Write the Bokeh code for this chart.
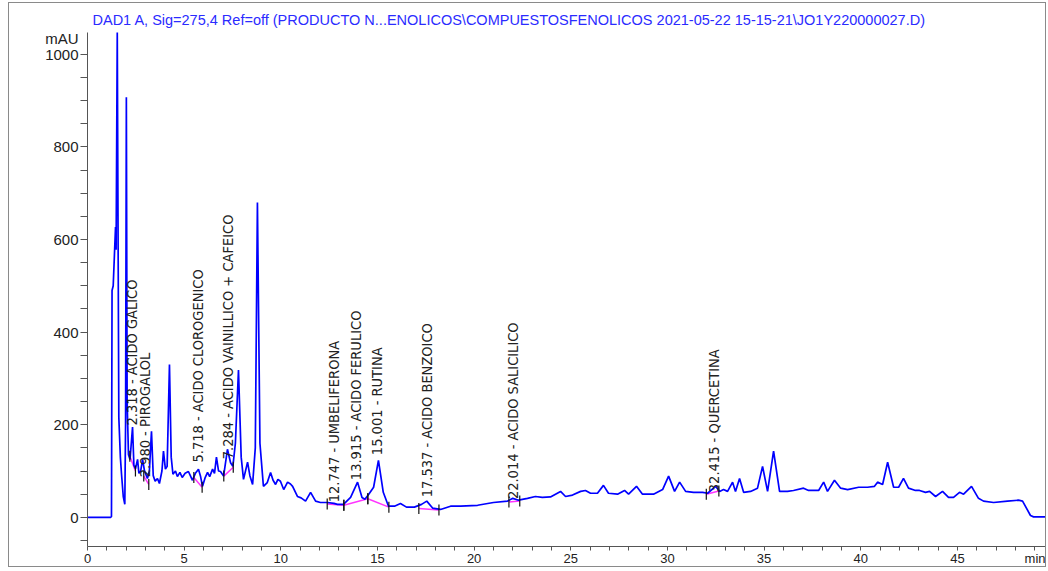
import numpy as np
from bokeh.plotting import figure
from bokeh.models import FixedTicker, ColumnDataSource
from bokeh.core.properties import value
from bokeh.embed import file_html
from bokeh.resources import INLINE

TITLE = ("DAD1 A, Sig=275,4 Ref=off (PRODUCTO N...ENOLICOS\\COMPUESTOSFENOLICOS "
         "2021-05-22 15-15-21\\JO1Y220000027.D)")

# chromatogram trace (time in min, signal in mAU)
time_min = [
    0.00, 1.20, 1.24, 1.27, 1.33, 1.45, 1.48, 1.54, 1.62, 1.70, 1.76, 1.85, 1.93, 1.97, 2.01,
    2.05, 2.12, 2.20, 2.33, 2.40, 2.48, 2.59, 2.66, 2.75, 2.85, 2.95, 3.10, 3.20, 3.31, 3.40,
    3.50, 3.62, 3.72, 3.85, 3.93, 4.03, 4.12, 4.24, 4.33, 4.42, 4.55, 4.65, 4.78, 4.90, 5.05,
    5.22, 5.32, 5.43, 5.58, 5.74, 5.85, 5.95, 6.08, 6.21, 6.32, 6.47, 6.57, 6.67, 6.78, 6.88,
    7.04, 7.24, 7.40, 7.52, 7.65, 7.81, 7.95, 8.07, 8.28, 8.40, 8.54, 8.68, 8.79, 8.92, 9.10,
    9.30, 9.47, 9.60, 9.73, 9.85, 9.98, 10.15, 10.35, 10.50, 10.61, 10.86, 11.05, 11.28, 11.54,
    11.80, 12.05, 12.42, 12.75, 12.93, 13.24, 13.61, 13.97, 14.20, 14.35, 14.55, 14.80, 15.05,
    15.30, 15.57, 15.88, 16.19, 16.50, 16.91, 17.28, 17.55, 17.85, 18.26, 18.78, 19.30, 20.18,
    21.00, 21.73, 22.00, 22.30, 22.76, 23.17, 23.53, 23.95, 24.47, 24.73, 25.09, 25.51, 25.76,
    26.02, 26.38, 26.69, 26.95, 27.42, 27.78, 27.99, 28.40, 28.71, 29.28, 29.75, 30.06, 30.37,
    30.63, 30.94, 31.35, 31.82, 32.08, 32.49, 32.70, 32.90, 33.11, 33.37, 33.52, 33.73, 33.94,
    34.30, 34.66, 34.92, 35.18, 35.49, 35.80, 36.21, 36.52, 37.04, 37.30, 37.82, 38.08, 38.28,
    38.64, 38.96, 39.32, 39.89, 40.35, 40.71, 40.87, 41.13, 41.39, 41.70, 41.96, 42.21, 42.47,
    42.83, 43.04, 43.35, 43.56, 43.87, 44.23, 44.54, 44.80, 45.11, 45.32, 45.73, 46.09, 46.35,
    46.87, 47.59, 48.16, 48.37, 48.78, 48.94, 49.70,
]
signal_mau = [
    0, 0, 2, 490, 500, 627, 578, 1048, 216, 130, 93, 45, 28, 200, 907,
    250, 135, 125, 195, 112, 105, 125, 95, 100, 125, 100, 84, 100, 186, 90,
    78, 84, 73, 100, 143, 104, 110, 330, 130, 93, 100, 88, 97, 86, 95,
    99, 90, 80, 95, 104, 88, 67, 85, 97, 88, 104, 95, 130, 100, 99,
    89, 147, 118, 110, 160, 318, 130, 82, 119, 90, 71, 150, 680, 160, 67,
    75, 97, 80, 71, 82, 78, 60, 76, 72, 67, 45, 42, 35, 54,
    35, 32, 32, 30, 28, 28, 43, 76, 43, 39, 50, 65, 123,
    54, 24, 24, 30, 22, 22, 28, 35, 20, 17, 24, 24, 26,
    32, 35, 41, 37, 41, 45, 43, 44, 56, 45, 48, 56, 58,
    52, 52, 69, 52, 50, 58, 50, 67, 50, 50, 60, 89, 56,
    76, 56, 54, 54, 52, 67, 56, 60, 56, 76, 56, 84, 54,
    56, 63, 110, 56, 143, 56, 56, 58, 63, 58, 58, 76, 56,
    80, 63, 60, 65, 65, 67, 76, 71, 119, 65, 65, 84, 63,
    58, 58, 54, 56, 45, 56, 43, 43, 54, 50, 67, 41, 35,
    32, 35, 37, 35, 4, 1, 1,
]

# identified peaks
peak_rt = [2.318, 2.980, 5.718, 7.284, 12.747, 13.915, 15.001, 17.537, 22.014, 32.415]
peak_name = ["ACIDO GALICO", "PIROGALOL", "ACIDO CLOROGENICO", "ACIDO VAINILLICO + CAFEICO",
             "UMBELIFERONA", "ACIDO FERULICO", "RUTINA", "ACIDO BENZOICO",
             "ACIDO SALICILICO", "QUERCETINA"]
peak_label_mau = [194, 82, 114, 121, 28, 76, 130, 39, 35, 50]

# integration baselines (start/end time, start/end signal)
bl_t0 = [2.19, 2.91, 5.50, 7.05, 12.40, 13.26, 14.50, 17.14, 21.80, 32.01]
bl_v0 = [132, 89, 86, 89, 29, 26, 40, 19, 33, 50]
bl_t1 = [2.48, 3.17, 5.93, 7.54, 13.26, 14.50, 15.59, 18.18, 22.36, 32.66]
bl_v1 = [100, 71, 65, 108, 26, 40, 22, 16, 35, 57]

# axis ticks and their labels
x_major = [0, 5, 10, 15, 20, 25, 30, 35, 40, 45, 49.3]
x_minor = list(range(0, 50))
x_unit = "min"
y_major = [0, 200, 400, 600, 800, 1000, 1035]
y_minor = list(range(-50, 1051, 50))
y_unit = "mAU"

p = figure(width=1038, height=565, x_range=(0, 49.66), y_range=(-63, 1047),
           output_backend="svg", toolbar_location=None,
           min_border_left=78, min_border_right=0, min_border_top=29, min_border_bottom=21)
p.margin = (2, 0, 0, 8)
p.styles = {"border": "1px solid #8a8a8a"}
p.outline_line_color = None
p.grid.visible = False
p.background_fill_color = "white"
p.border_fill_color = "white"

p.title.text = TITLE
p.title.text_color = "#2b2bff"
p.title.text_font = "Liberation Sans"
p.title.text_font_size = "14.5px"
p.title.text_font_style = "normal"
p.title.align = "left"
p.title.offset = 5
p.title.standoff = 10

# baselines and markers
p.segment(x0=bl_t0, y0=bl_v0, x1=bl_t1, y1=bl_v1, line_color="#ff33ff", line_width=1.5)
p.line(time_min, signal_mau, line_color="#0000ff", line_width=1.7)
p.scatter(x=bl_t0 + bl_t1, y=bl_v0 + bl_v1, marker="dash", angle=np.pi / 2, size=11,
          line_color="#111111", line_width=1.2)

labels = ColumnDataSource(dict(
    x=peak_rt, y=peak_label_mau,
    t=[f"{rt:.3f} -  {nm}" for rt, nm in zip(peak_rt, peak_name)]))
p.text(x="x", y="y", text="t", source=labels, angle=np.pi / 2, text_align="left",
       text_baseline="middle", text_font=value("DejaVu Sans Condensed"),
       text_font_size="14.5px", text_color="#222222", y_offset=-2)

for ax in (p.xaxis[0], p.yaxis[0]):
    ax.axis_line_color = "#555555"
    ax.major_tick_line_color = "#555555"
    ax.minor_tick_line_color = "#555555"
    ax.major_label_text_font = "Liberation Sans"
    ax.major_label_text_color = "#222222"
    ax.major_tick_out = 0
    ax.major_tick_in = 0
    ax.minor_tick_in = 0

p.yaxis.ticker = FixedTicker(ticks=y_major, minor_ticks=y_minor)
p.yaxis.major_label_overrides = {1035: y_unit}
p.yaxis.minor_tick_out = 7
p.yaxis.major_label_text_font_size = "15px"
p.yaxis.major_label_standoff = 2

p.xaxis.ticker = FixedTicker(ticks=x_major, minor_ticks=x_minor)
p.xaxis.major_label_overrides = {49.3: x_unit}
p.xaxis.minor_tick_out = 4
p.xaxis.major_label_text_font_size = "13px"
p.xaxis.major_label_standoff = 0

open("out.html", "w").write(file_html(p, INLINE))
